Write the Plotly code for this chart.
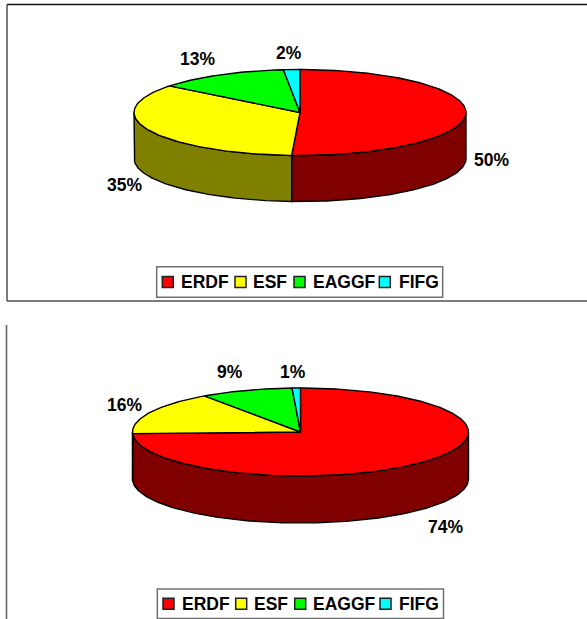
import numpy as np
import plotly.graph_objects as go

# 資料
categories = ["ERDF", "ESF", "EAGGF", "FIFG"]
top_shares = [50.8, 34.8, 12.8, 1.6]
top_labels = ["50%", "35%", "13%", "2%"]
bottom_shares = [74.4, 15.9, 8.9, 0.8]
bottom_labels = ["74%", "16%", "9%", "1%"]

face_colors = ["#ff0000", "#ffff00", "#00ff00", "#00ffff"]
wall_colors = ["#800000", "#808000", "#008000", "#008080"]

fig = go.Figure()


def arc(cx, cy, rx, ry, a0, a1):
    # 角度由 12 點鐘方向順時針算
    t = np.radians(np.linspace(a0, a1, max(int(abs(a1 - a0)), 2) + 1))
    return cx + rx * np.sin(t), cy - ry * np.cos(t)


def add_poly(x, y, color):
    fig.add_trace(go.Scatter(
        x=np.append(x, x[0]), y=np.append(y, y[0]),
        mode="lines", fill="toself", fillcolor=color,
        line=dict(color="black", width=1.4),
        hoverinfo="skip", showlegend=False
    ))


def draw_pie(shares, labels, cx, cy, rx, ry, depth, label_pos):
    edges = np.concatenate([[0], np.cumsum(shares)]) * 3.6
    # 側面：只畫朝前的半圈 (90~270 度)
    for i in range(len(shares)):
        a0, a1 = max(edges[i], 90), min(edges[i + 1], 270)
        if a1 <= a0:
            continue
        x, y = arc(cx, cy, rx, ry, a0, a1)
        add_poly(np.concatenate([x, x[::-1]]),
                 np.concatenate([y, y[::-1] + depth]), wall_colors[i])
    # 上面
    for i in range(len(shares)):
        x, y = arc(cx, cy, rx, ry, edges[i], edges[i + 1])
        add_poly(np.concatenate([[cx], x]), np.concatenate([[cy], y]), face_colors[i])
    for text, (lx, ly) in zip(labels, label_pos):
        fig.add_annotation(x=lx, y=ly, text=text, showarrow=False,
                           font=dict(family="Liberation Sans", size=17.5, color="black"))


def draw_legend(x0, y0, x1, y1, swatch_x, text_x):
    fig.add_shape(type="rect", x0=x0, y0=y0, x1=x1, y1=y1,
                  line=dict(color="#707070", width=1.5), fillcolor="white")
    ym = (y0 + y1) / 2
    for i, name in enumerate(categories):
        fig.add_shape(type="rect", x0=swatch_x[i], x1=swatch_x[i] + 11,
                      y0=ym - 5.5, y1=ym + 5.5,
                      line=dict(color="#202020", width=1.5), fillcolor=face_colors[i])
        fig.add_annotation(x=text_x[i], y=ym, text=f"<b>{name}</b>", showarrow=False,
                           xanchor="left",
                           font=dict(family="Liberation Sans", size=17.5, color="black"))


draw_pie(top_shares, [f"<b>{t}</b>" for t in top_labels], 300, 112.5, 166, 43, 46,
         [(491.7, 160), (124.7, 185), (197.8, 58.7), (288.8, 53.3)])
draw_pie(bottom_shares, [f"<b>{t}</b>" for t in bottom_labels], 300.5, 432, 168, 44, 47,
         [(445, 527), (124, 405), (230, 372), (293, 372)])

draw_legend(156.7, 266.7, 442.7, 297.3, [162.3, 235, 294, 379.3], [179, 251, 310.5, 396.5])
draw_legend(157.3, 589, 443.5, 618.5, [163, 235.7, 294.7, 380], [179.7, 251.7, 311.2, 397.2])

# 外框線
frame_lines = [
    (7, 4.5, 587, 4.5, "#101010"),
    (7, 4.5, 7, 301, "#505050"),
    (7, 301, 587, 301, "#505050"),
    (6.5, 325, 6.5, 619, "#606060"),
]
for x0, y0, x1, y1, c in frame_lines:
    fig.add_shape(type="line", x0=x0, y0=y0, x1=x1, y1=y1, line=dict(color=c, width=1.5))

fig.update_layout(
    width=587, height=619,
    margin=dict(l=0, r=0, t=0, b=0),
    paper_bgcolor="white", plot_bgcolor="white",
    xaxis=dict(range=[0, 587], visible=False),
    yaxis=dict(range=[619, 0], visible=False),
    showlegend=False
)

fig.write_html("out.html", config={"displayModeBar": False},
               post_script="document.body.style.margin='0';document.body.style.overflow='hidden';")
